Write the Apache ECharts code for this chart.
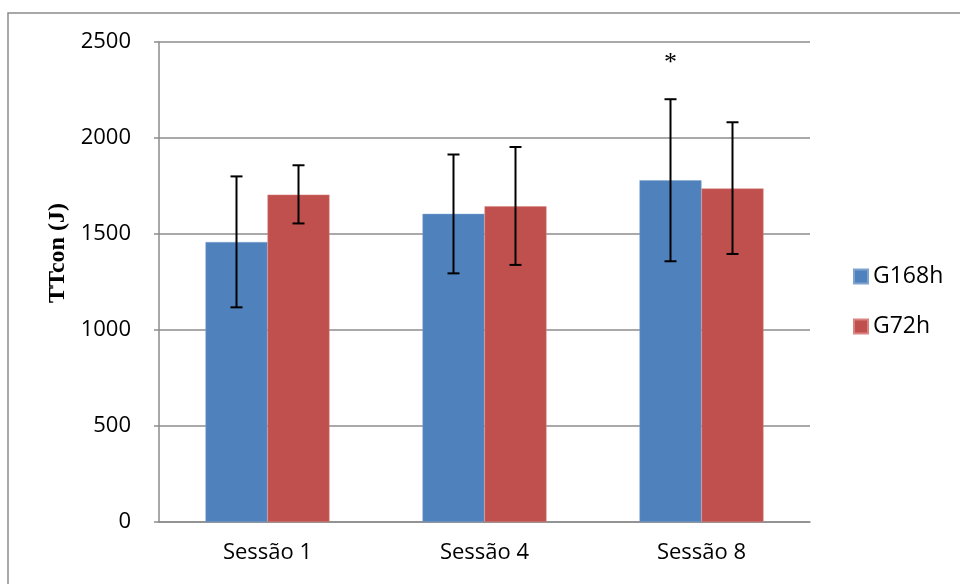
<!DOCTYPE html>
<html>
<head>
<meta charset="utf-8">
<script src="https://cdn.jsdelivr.net/npm/echarts@6/dist/echarts.min.js"></script>
<style>
  html, body { margin: 0; padding: 0; background: #fff; }
  #chart { width: 960px; height: 584px; }
</style>
</head>
<body>
<div id="chart"></div>
<script>
// dados
const sessoes = ['Sessão 1', 'Sessão 4', 'Sessão 8'];
const g168h = [1458, 1605, 1780];
const g168hErroBaixo = [1118, 1295, 1358];
const g168hErroAlto = [1800, 1914, 2202];
const g72h = [1705, 1644, 1737];
const g72hErroBaixo = [1555, 1339, 1396];
const g72hErroAlto = [1858, 1953, 2082];
const yTicks = [0, 500, 1000, 1500, 2000, 2500];

const azul = '#4f81bd';
const vermelho = '#c0504d';
const cinza = '#8c8c8c';
const fonte = '"Open Sans", sans-serif';
const barW = 62;

// barras de erro: offset em px em relação ao centro da categoria
const erroItem = (offset, baixo, alto) => function (params, api) {
  const i = api.value(0);
  const lo = api.coord([i, baixo[i]]);
  const hi = api.coord([i, alto[i]]);
  const x = lo[0] + offset;
  const cap = 6;
  const style = { stroke: '#000', lineWidth: 2 };
  return {
    type: 'group',
    children: [
      { type: 'line', shape: { x1: x, y1: lo[1], x2: x, y2: hi[1] }, style },
      { type: 'line', shape: { x1: x - cap, y1: lo[1], x2: x + cap, y2: lo[1] }, style },
      { type: 'line', shape: { x1: x - cap, y1: hi[1], x2: x + cap, y2: hi[1] }, style }
    ]
  };
};

const chart = echarts.init(document.getElementById('chart'));

chart.setOption({
  animation: false,
  backgroundColor: '#fff',
  grid: { left: 159, right: 150, top: 42, bottom: 62 },
  graphic: [
    {
      type: 'rect',
      shape: { x: 8, y: 13, width: 960, height: 600 },
      style: { fill: 'none', stroke: cinza, lineWidth: 1.5 },
      silent: true
    },
    {
      type: 'text',
      x: 58,
      y: 253,
      rotation: Math.PI / 2,
      style: {
        text: 'TTcon (J)',
        fontSize: 24,
        fontWeight: 'bold',
        fontFamily: '"Liberation Serif", "Times New Roman", serif',
        fill: '#000',
        align: 'center',
        verticalAlign: 'middle'
      }
    }
  ],
  legend: {
    orient: 'vertical',
    left: 853,
    top: 265,
    padding: 0,
    icon: 'rect',
    itemWidth: 14,
    itemHeight: 14,
    itemGap: 27,
    textStyle: { fontFamily: fonte, fontSize: 23, color: '#000' },
    data: ['G168h', 'G72h']
  },
  xAxis: {
    type: 'category',
    data: sessoes,
    axisLine: { lineStyle: { color: cinza, width: 1.5 } },
    axisTick: { show: false },
    axisLabel: { fontFamily: fonte, fontSize: 22, color: '#000', margin: 20 }
  },
  yAxis: {
    type: 'value',
    min: yTicks[0],
    max: yTicks[yTicks.length - 1],
    interval: 500,
    axisLine: { show: true, lineStyle: { color: cinza, width: 1.5 } },
    axisTick: { show: true, length: 5, lineStyle: { color: cinza, width: 1.5 } },
    axisLabel: {
      fontFamily: fonte,
      fontSize: 22,
      color: '#000',
      margin: 28,
      formatter: v => String(v)
    },
    splitLine: { lineStyle: { color: cinza, width: 1.5 } }
  },
  series: [
    {
      name: 'G168h',
      type: 'bar',
      data: g168h,
      barWidth: barW,
      barGap: '0%',
      itemStyle: { color: azul, borderColor: '#7fa3cf', borderWidth: 0.5 },
      markPoint: {
        symbol: 'circle',
        symbolSize: 0,
        data: [{ coord: [2, 2390] }],
        label: {
          show: true,
          formatter: '*',
          position: 'inside',
          fontSize: 26,
          fontFamily: '"Liberation Serif", serif',
          color: '#000'
        }
      }
    },
    {
      name: 'G72h',
      type: 'bar',
      data: g72h,
      barWidth: barW,
      barGap: '0%',
      itemStyle: { color: vermelho, borderColor: '#d98481', borderWidth: 0.5 }
    },
    {
      type: 'custom',
      renderItem: erroItem(-barW / 2, g168hErroBaixo, g168hErroAlto),
      data: sessoes.map((s, i) => [i]),
      z: 5
    },
    {
      type: 'custom',
      renderItem: erroItem(barW / 2, g72hErroBaixo, g72hErroAlto),
      data: sessoes.map((s, i) => [i]),
      z: 5
    }
  ]
});
</script>
</body>
</html>
